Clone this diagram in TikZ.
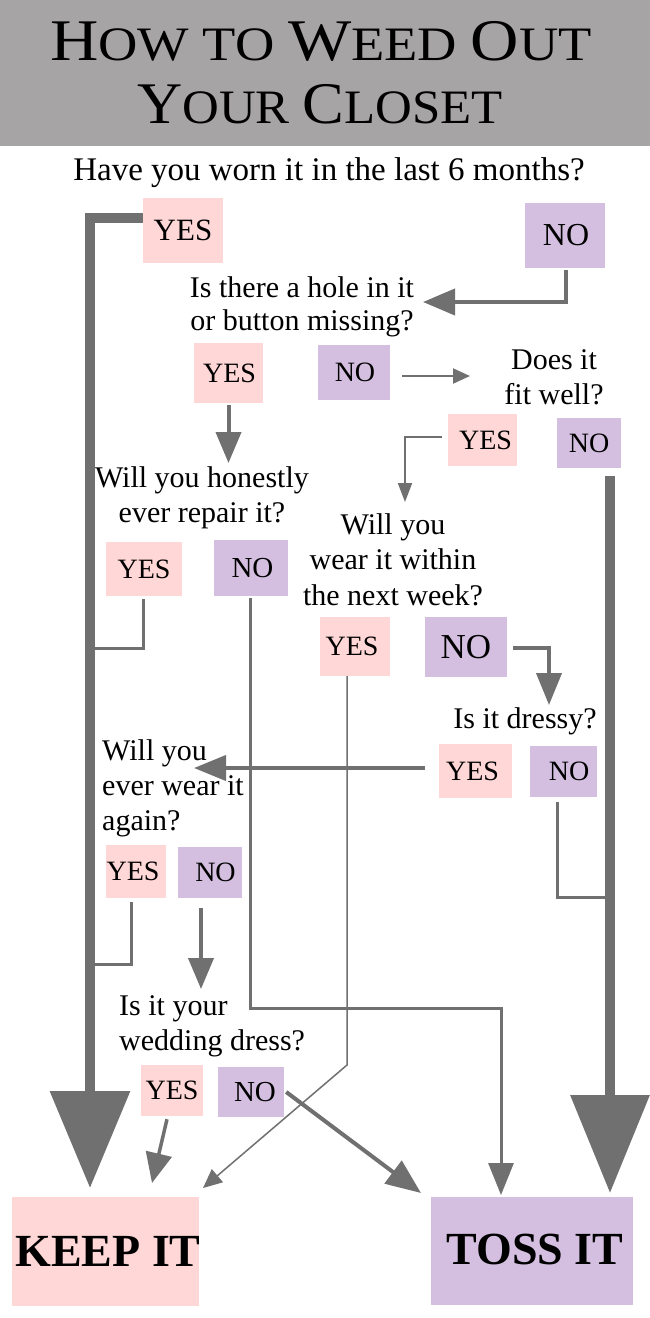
\documentclass[tikz,border=0pt]{standalone}
\usepackage{fontspec}
\setmainfont{Liberation Serif}
\usetikzlibrary{arrows.meta}
\definecolor{pinkc}{HTML}{FFD7D7}
\definecolor{purpc}{HTML}{D4BFE0}
\definecolor{linec}{HTML}{707070}
\definecolor{bannerc}{HTML}{A7A4A5}
\newcommand{\fs}[1]{\fontsize{#1}{#1}\selectfont}
\begin{document}
\begin{tikzpicture}[x=1pt,y=-1pt,
  yesbox/.style={fill=pinkc, inner sep=0pt, font=\fs{28}},
  nobox/.style={fill=purpc, inner sep=0pt, font=\fs{28}},
  ques/.style={inner sep=0pt, font=\fontsize{30}{35}\selectfont, align=center, anchor=base},
  quesl/.style={inner sep=0pt, font=\fontsize{30}{35}\selectfont, align=left, anchor=base west},
  endbox/.style={inner sep=0pt, font=\fs{46}\bfseries},
  thickl/.style={draw=linec, line width=10pt},
  medl/.style={draw=linec, line width=4pt},
  lwthree/.style={draw=linec, line width=3pt},
  lwtwo/.style={draw=linec, line width=2pt},
  lwthin/.style={draw=linec, line width=1.5pt}]
\useasboundingbox (0,0) rectangle (650,1318);
\fill[white] (0,0) rectangle (650,1318);
\fill[bannerc] (0,0) rectangle (650,146);
% title
\node[anchor=base, inner sep=0pt] (title1) at (321,60)
  {\scalebox{1.135}[1]{\fs{59}H{\fs{48}OW TO }W{\fs{48}EED }O{\fs{48}UT}}};
\node[anchor=base, inner sep=0pt] (title2) at (320,123)
  {\scalebox{1.06}[1]{\fs{59}Y{\fs{48}OUR }C{\fs{48}LOSET}}};
% questions (base = baseline of the last line)
\node[anchor=base, inner sep=0pt, font=\fs{33}] (q0) at (329,180) {Have you worn it in the last 6 months?};
\node[ques, font=\fontsize{30}{33}\selectfont] (q1) at (302,330) {Is there a hole in it\\or button missing?};
\node[ques] (q2) at (554,404) {Does it\\fit well?};
\node[ques] (q3) at (202,522) {Will you honestly\\ever repair it?};
\node[ques, font=\fontsize{30}{35.5}\selectfont] (q4) at (393,605) {Will you\\wear it within\\the next week?};
\node[ques] (q5) at (525,728) {Is it dressy?};
\node[quesl] (q6) at (102,830) {Will you\\ever wear it\\again?};
\node[quesl] (q7) at (119,1050) {Is it your\\wedding dress?};
% boxes
\node[yesbox, font=\fs{31}, minimum width=80pt, minimum height=65pt] (y1) at (183,230.5) {YES};
\node[nobox, font=\fs{32}, minimum width=80pt, minimum height=65pt] (n1) at (565,235.5) {\hspace{2pt}NO};
\node[yesbox, minimum width=69pt, minimum height=60pt] (y2) at (228.5,373) {\hspace{2pt}YES};
\node[nobox, minimum width=72pt, minimum height=55pt] (n2) at (354,372.5) {\hspace{2pt}NO};
\node[yesbox, minimum width=69pt, minimum height=52pt] (y3) at (482.5,440) {\hspace{6pt}YES};
\node[nobox, minimum width=64pt, minimum height=50pt] (n3) at (589,443) {NO};
\node[yesbox, minimum width=76pt, minimum height=54pt] (y4) at (144,569) {YES};
\node[nobox, font=\fs{29}, minimum width=74pt, minimum height=56pt] (n4) at (251,568) {\hspace{3pt}NO};
\node[yesbox, minimum width=70pt, minimum height=59pt] (y5) at (355,646.5) {\hspace{-6pt}YES};
\node[nobox, font=\fs{35}, minimum width=82pt, minimum height=60pt] (n5) at (466,647) {NO};
\node[yesbox, minimum width=73pt, minimum height=54pt] (y6) at (475.5,771) {\hspace{-6pt}YES};
\node[nobox, minimum width=67pt, minimum height=51pt] (n6) at (563.5,771.5) {\hspace{11pt}NO};
\node[yesbox, minimum width=60pt, minimum height=53pt] (y7) at (136,871.5) {\hspace{-6pt}YES};
\node[nobox, minimum width=64pt, minimum height=51pt] (n7) at (210,872.5) {\hspace{11pt}NO};
\node[yesbox, minimum width=62pt, minimum height=51pt] (y8) at (172,1090.5) {YES};
\node[nobox, font=\fs{29}, minimum width=66pt, minimum height=50pt] (n8) at (251,1092) {\hspace{8pt}NO};
\node[endbox, fill=pinkc, minimum width=187pt, minimum height=109pt] (keep) at (105.5,1251.5) {\makebox[0pt][c]{\hspace{5pt}KEEP IT}};
\node[endbox, fill=purpc, minimum width=202pt, minimum height=108pt] (toss) at (532,1251) {\hspace{6pt}\raisebox{3pt}{TOSS IT}};
% connector coordinates
\coordinate (kl) at (90,1188);
\coordinate (tr) at (610,1193);
\coordinate (q1in) at (423,302);
\coordinate (q3in) at (228.5,463);
\coordinate (q2in) at (470,376);
\coordinate (q4in) at (405,502);
\coordinate (j4) at (95,648);
\coordinate (b4) at (501,1008);
\coordinate (t4) at (501,1195);
\coordinate (b5) at (347,1065);
\coordinate (t5) at (203,1188);
\coordinate (q5in) at (549,705);
\coordinate (q6in) at (194,768);
\coordinate (j6) at (605,897);
\coordinate (j7) at (95,964);
\coordinate (q7in) at (201,989);
\coordinate (t8) at (152,1183);
\coordinate (t9) at (421,1193);
% connectors
\draw[thickl, -{Triangle[width=78pt,length=97pt]}] ([yshift=12.5pt]y1.west) -| (kl);
\draw[medl, -{Triangle[width=26pt,length=32pt]}] ([xshift=1pt,yshift=-2pt]n1.south) |- (q1in);
\draw[medl, -{Triangle[width=25pt,length=31pt]}] ([yshift=-2pt]y2.south) -- (q3in);
\draw[lwtwo, -{Triangle[width=15pt,length=17pt]}] ([xshift=12pt,yshift=-3.5pt]n2.east) -- (q2in);
\draw[lwtwo, -{Triangle[width=14pt,length=19pt]}] ([xshift=-6pt,yshift=3pt]y3.west) -| (q4in);
\draw[thickl, -{Triangle[width=77pt,length=98pt]}] ([xshift=21pt,yshift=-8pt]n3.south) -- (tr);
\draw[lwthree] ([xshift=-1pt,yshift=-3pt]y4.south) |- (j4);
\draw[lwthree, -{Triangle[width=25pt,length=32pt]}] ([xshift=-1pt,yshift=-2pt]n4.south) |- (b4) -- (t4);
\draw[lwthin, -{Triangle[width=17pt,length=19pt]}] ([xshift=-8pt]y5.south) -- (b5) -- (t5);
\draw[medl, -{Triangle[width=25pt,length=32pt]}] ([xshift=6pt,yshift=-1pt]n5.east) -| (q5in);
\draw[medl, -{Triangle[width=25pt,length=32pt]}] ([xshift=-14pt,yshift=3pt]y6.west) -- (q6in);
\draw[lwthree] ([xshift=-6.5pt,yshift=-5pt]n6.south) |- (j6);
\draw[lwthree] ([xshift=-5pt,yshift=-4pt]y7.south) |- (j7);
\draw[medl, -{Triangle[width=25pt,length=31pt]}] ([xshift=-9pt,yshift=-10pt]n7.south) -- (q7in);
\draw[line width=3.5pt, draw=linec, -{Triangle[width=26pt,length=30pt]}] ([xshift=-5pt,yshift=-3pt]y8.south) -- (t8);
\draw[medl, -{Triangle[width=28pt,length=35pt]}] ([xshift=2pt]n8.east) -- (t9);
\end{tikzpicture}
\end{document}
